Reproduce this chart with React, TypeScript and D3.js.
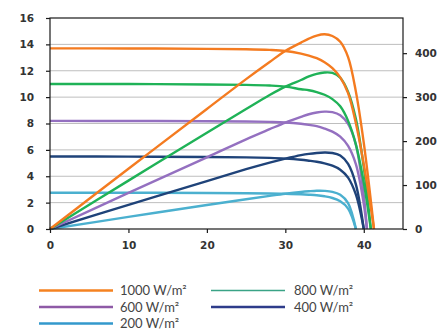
import React, { useEffect, useRef } from 'react';
import * as d3 from 'd3';

// irradiance levels, legend labels
const labels = ['1000 W/m²', '800 W/m²', '600 W/m²', '400 W/m²', '200 W/m²'];
const lineColors = ['#F47B20', '#1FB257', '#9470C0', '#1F4379', '#4BB0CF'];
const legendColors = ['#F58220', '#3AA386', '#8E5AA6', '#2E3C8A', '#3399CC'];

// voltage (V), current (A), power (W)
const v1000 = [0, 10, 20, 25, 28, 30, 32, 33, 34, 35, 36, 37, 38, 39, 40, 41, 41.3];
const i1000 = [13.7, 13.69, 13.66, 13.63, 13.58, 13.5, 13.3, 13.15, 12.95, 12.65, 12.2, 11.5, 10.3, 8.0, 4.9, 1.2, 0];
const p1000 = [0, 137, 273, 341, 380, 405, 424, 433, 440, 443, 439, 426, 391, 312, 196, 49, 0];

const v800 = [0, 10, 20, 25, 28, 30, 32, 33, 34, 35, 36, 37, 38, 39, 40, 40.9];
const i800 = [11.0, 10.99, 10.96, 10.93, 10.88, 10.8, 10.6, 10.52, 10.38, 10.18, 9.85, 9.3, 8.2, 6.4, 3.5, 0];
const p800 = [0, 110, 219, 273, 305, 324, 339, 347, 353, 356, 355, 344, 312, 250, 140, 0];

const v600 = [0, 10, 20, 25, 28, 30, 32, 33, 34, 35, 36, 37, 38, 39, 40, 40.4];
const i600 = [8.2, 8.19, 8.17, 8.15, 8.12, 8.08, 7.98, 7.9, 7.8, 7.62, 7.38, 7.0, 6.3, 4.9, 1.9, 0];
const p600 = [0, 82, 163, 204, 227, 242, 255, 261, 265, 267, 266, 259, 239, 191, 76, 0];

const v400 = [0, 10, 20, 25, 28, 30, 32, 33, 34, 35, 36, 37, 38, 39, 40];
const i400 = [5.5, 5.49, 5.46, 5.43, 5.39, 5.34, 5.25, 5.18, 5.1, 4.98, 4.8, 4.5, 3.9, 2.6, 0];
const p400 = [0, 55, 109, 136, 151, 160, 168, 171, 173, 174, 173, 167, 148, 101, 0];

const v200 = [0, 10, 20, 25, 28, 30, 32, 33, 34, 35, 36, 37, 38, 39];
const i200 = [2.75, 2.75, 2.73, 2.71, 2.69, 2.67, 2.63, 2.6, 2.56, 2.48, 2.35, 2.1, 1.55, 0];
const p200 = [0, 27.5, 54.6, 67.8, 75.3, 80.1, 84.2, 85.8, 87, 86.8, 84.6, 77.7, 58.9, 0];

const xTicks = [0, 10, 20, 30, 40];
const yTicks = [0, 2, 4, 6, 8, 10, 12, 14, 16];
const y2Ticks = [0, 100, 200, 300, 400];

function App() {
  const ref = useRef<SVGSVGElement>(null);

  useEffect(() => {
    const svg = d3.select(ref.current);
    svg.selectAll('*').remove();

    const width = 437;
    const height = 331;
    const margin = { top: 18, right: 34, bottom: 102, left: 50 };

    const x = d3.scaleLinear().domain([0, 45]).range([margin.left, width - margin.right]);
    const y = d3.scaleLinear().domain([0, 16]).range([height - margin.bottom, margin.top]);
    const y2 = d3.scaleLinear().domain([0, 480]).range([height - margin.bottom, margin.top]);

    // gridlines
    svg.append('g')
      .selectAll('line')
      .data(yTicks.slice(1, -1))
      .enter()
      .append('line')
      .attr('x1', margin.left)
      .attr('x2', width - margin.right)
      .attr('y1', d => y(d))
      .attr('y2', d => y(d))
      .attr('stroke', '#BEBEBE')
      .attr('stroke-width', 1);

    const series = [
      { v: v1000, i: i1000, p: p1000 },
      { v: v800, i: i800, p: p800 },
      { v: v600, i: i600, p: p600 },
      { v: v400, i: i400, p: p400 },
      { v: v200, i: i200, p: p200 },
    ];

    const ivLine = d3.line<[number, number]>()
      .x(d => x(d[0]))
      .y(d => y(d[1]))
      .curve(d3.curveCatmullRom.alpha(0.5));
    const pvLine = d3.line<[number, number]>()
      .x(d => x(d[0]))
      .y(d => y2(d[1]))
      .curve(d3.curveCatmullRom.alpha(0.5));

    const plot = svg.append('g');
    series.slice().reverse().forEach((s, k) => {
      const idx = series.length - 1 - k;
      plot.append('path')
        .attr('d', pvLine(s.v.map((v, j) => [v, s.p[j]] as [number, number])))
        .attr('fill', 'none')
        .attr('stroke', lineColors[idx])
        .attr('stroke-width', 2.4);
      plot.append('path')
        .attr('d', ivLine(s.v.map((v, j) => [v, s.i[j]] as [number, number])))
        .attr('fill', 'none')
        .attr('stroke', lineColors[idx])
        .attr('stroke-width', 2.4);
    });

    // frame
    svg.append('rect')
      .attr('x', margin.left)
      .attr('y', margin.top)
      .attr('width', width - margin.left - margin.right)
      .attr('height', height - margin.top - margin.bottom)
      .attr('fill', 'none')
      .attr('stroke', '#1a1a1a')
      .attr('stroke-width', 1.2);

    const styleAxis = (g: any) => {
      g.select('.domain').remove();
      g.selectAll('line').attr('stroke', '#1a1a1a').attr('stroke-width', 1.2);
      g.selectAll('text')
        .attr('fill', '#333')
        .attr('font-family', 'DejaVu Sans, sans-serif')
        .attr('font-weight', 'bold')
        .attr('font-size', 10.5);
    };

    svg.append('g')
      .attr('transform', `translate(0, ${height - margin.bottom})`)
      .call(d3.axisBottom(x).tickValues(xTicks).tickSize(4).tickPadding(9).tickFormat(d3.format('d')))
      .call(styleAxis);

    svg.append('g')
      .attr('transform', `translate(${margin.left}, 0)`)
      .call(d3.axisLeft(y).tickValues(yTicks).tickSize(4).tickPadding(12).tickFormat(d3.format('d')))
      .call(styleAxis);

    svg.append('g')
      .attr('transform', `translate(${width - margin.right}, 0)`)
      .call(d3.axisRight(y2).tickValues(y2Ticks).tickSize(4).tickPadding(8).tickFormat(d3.format('d')))
      .call(styleAxis);

    // legend
    const legendPos = [
      { lx: 39, tx: 120, y: 290.5 },
      { lx: 211, tx: 294, y: 290.5 },
      { lx: 39, tx: 120, y: 307 },
      { lx: 211, tx: 294, y: 307 },
      { lx: 39, tx: 120, y: 323.5 },
    ];
    const legend = svg.append('g');
    labels.forEach((label, k) => {
      const p = legendPos[k];
      legend.append('line')
        .attr('x1', p.lx)
        .attr('x2', p.lx + 74)
        .attr('y1', p.y)
        .attr('y2', p.y)
        .attr('stroke', legendColors[k])
        .attr('stroke-width', k === 1 ? 1.5 : 2.5);
      legend.append('text')
        .attr('x', p.tx)
        .attr('y', p.y + 4.5)
        .attr('fill', '#444')
        .attr('font-family', 'Lato, sans-serif')
        .attr('font-size', 13)
        .text(label);
    });
  }, []);

  return (
    <svg
      ref={ref}
      width={437}
      height={331}
      style={{ position: 'absolute', left: 0, top: 0, background: '#fff' }}
    />
  );
}

export default App;
